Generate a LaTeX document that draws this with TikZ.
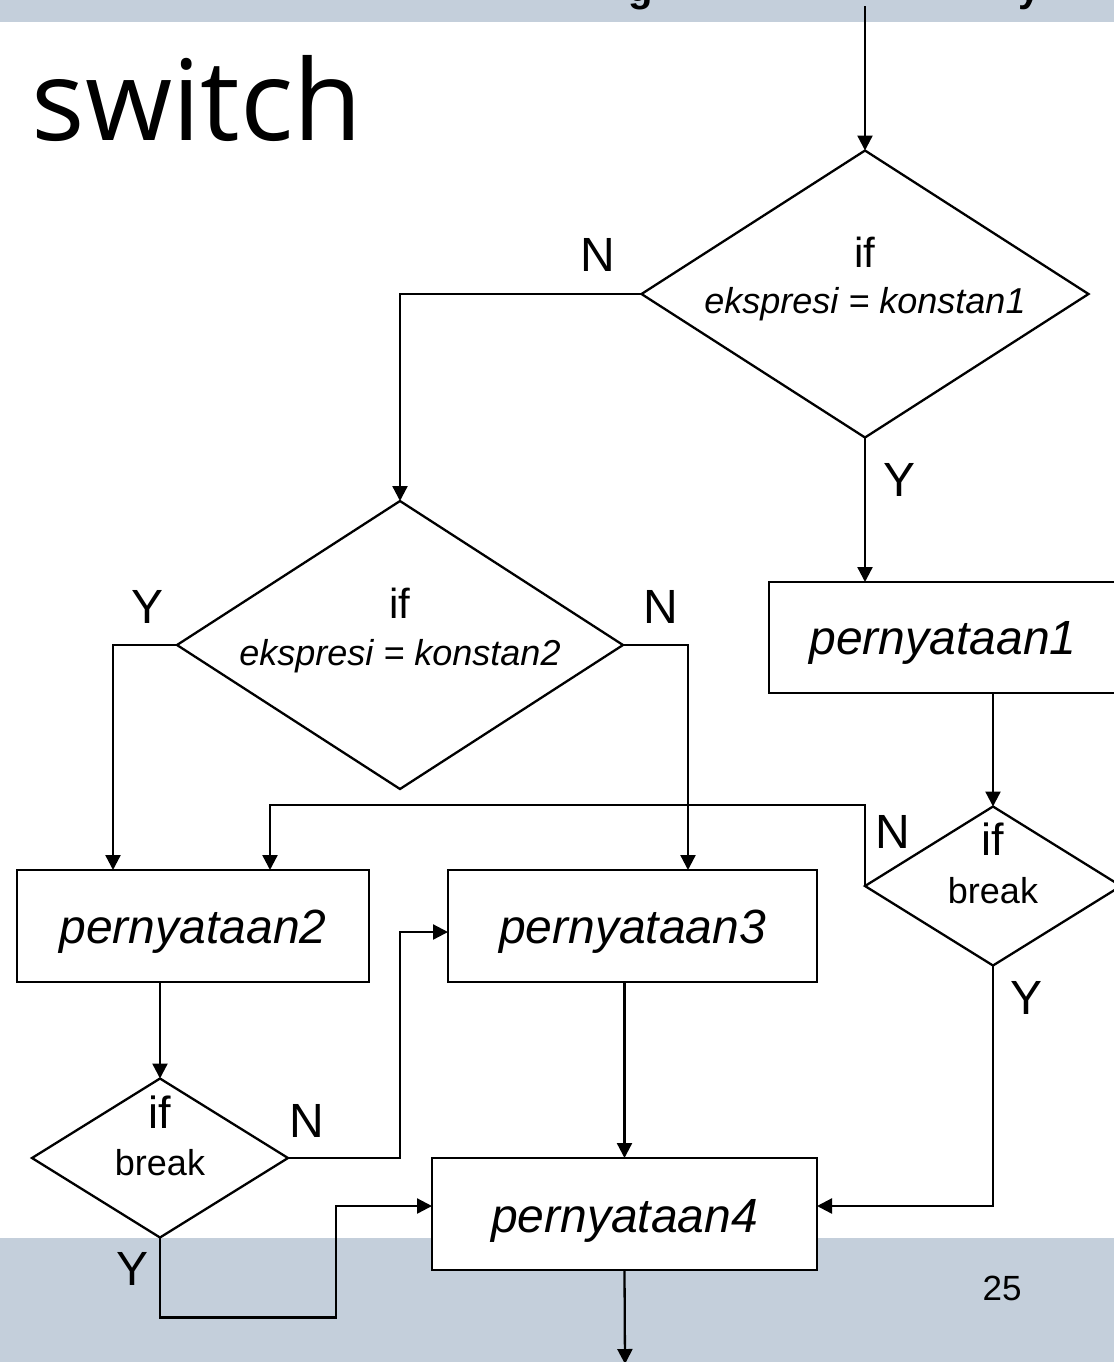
\documentclass[tikz,border=0pt]{standalone}
\usepackage{fontspec}
\setmainfont{Liberation Sans}
\newfontfamily\titlefont{Open Sans}
\usetikzlibrary{shapes.geometric,arrows.meta}
\definecolor{band}{RGB}{196,207,219}

\begin{document}
\begin{tikzpicture}[x=0.5pt, y=-0.5pt, line width=1.15pt,
    >={Triangle[length=7.5pt, width=7.5pt]},
    cond/.style={diamond, draw, fill=white, inner sep=0pt, outer sep=0pt},
    stmt/.style={rectangle, draw, fill=white, inner sep=0pt, outer sep=0pt},
    big/.style={anchor=base, font=\fontsize{24}{28}\selectfont\itshape},
    expr/.style={anchor=base, font=\fontsize{18}{22}\selectfont\itshape},
    yn/.style={anchor=base, font=\fontsize{24}{28}\selectfont}]
    \useasboundingbox (0, 0) rectangle (1114, 1362);
    % bands
    \fill [band]     (0, 0) rectangle (1114, 22);
    \fill [band]     (0, 1238) rectangle (1114, 1362);
    \begin{scope}
      \clip          (0, 0) rectangle (1114, 22);
      \node [anchor=base, font=\fontsize{20}{24}\selectfont\bfseries] (hg) at (641, 1) {g};
      \node [anchor=base, font=\fontsize{20}{24}\selectfont\bfseries] (hy) at (1030, 1) {y};
    \end{scope}
    \node [anchor=base west, font=\titlefont\fontsize{56}{60}\selectfont] (title) at (24, 140) {switch};
    \node [anchor=base, font=\fontsize{17.5}{20}\selectfont] (page) at (1002, 1300) {25};
    % D1
    \node [cond, minimum width=223.5pt, minimum height=143.5pt] (d1) at (865, 294) {};
    \node [anchor=base, font=\fontsize{21}{24}\selectfont] (d1if) at ([yshift=13.5pt]d1.center) {if};
    \node [expr]     (d1ex) at ([yshift=-9.5pt]d1.center) {ekspresi = konstan1};
    % D2
    \node [cond, minimum width=223pt, minimum height=144pt] (d2) at (400, 645) {};
    \node [anchor=base, font=\fontsize{21}{24}\selectfont] (d2if) at ([yshift=13.5pt]d2.center) {if};
    \node [expr]     (d2ex) at ([yshift=-10pt]d2.center) {ekspresi = konstan2};
    % D3
    \node [cond, minimum width=128pt, minimum height=79.5pt] (d3) at (993, 886) {};
    \node [anchor=base, font=\fontsize{22.5}{26}\selectfont] (d3if) at ([yshift=15.5pt]d3.center) {if};
    \node [expr, font=\fontsize{18}{22}\selectfont] (d3br) at ([yshift=-8.5pt]d3.center) {break};
    % D4
    \node [cond, minimum width=128pt, minimum height=79.5pt] (d4) at (160, 1158) {};
    \node [anchor=base, font=\fontsize{22.5}{26}\selectfont] (d4if) at ([yshift=15pt]d4.center) {if};
    \node [expr, font=\fontsize{18}{22}\selectfont] (d4br) at ([yshift=-8.5pt]d4.center) {break};
    % P1 -- P4
    \node [stmt, minimum width=174pt, minimum height=55.5pt] (p1) at (943, 637.5) {};
    \node [big]      (p1t) at ([yshift=-8.5pt]p1.center) {pernyataan1};
    \node [stmt, minimum width=176pt, minimum height=56pt] (p2) at (193, 926) {};
    \node [big]      (p2t) at ([yshift=-8.5pt]p2.center) {pernyataan2};
    \node [stmt, minimum width=184.5pt, minimum height=56pt] (p3) at (632.5, 926) {};
    \node [big]      (p3t) at ([yshift=-8.5pt]p3.center) {pernyataan3};
    \node [stmt, minimum width=192.5pt, minimum height=56pt] (p4) at (624.5, 1214) {};
    \node [big]      (p4t) at ([yshift=-9pt]p4.center) {pernyataan4};
    % arrows
    \coordinate (top) at (865, 6);
    \coordinate (bot) at (625, 1364);
    \draw [->]       (top) -- (d1.north);
    \draw [->]       (d1.west) -| (d2.north);
    \draw [->]       (d1.south) -- (d1.south |- p1.north);
    \draw [->]       (d2.west) -| ([xshift=-40pt]p2.north);
    \draw [->]       (d2.east) -| ([xshift=27.75pt]p3.north);
    \draw [->]       (d3.north |- p1.south) -- (d3.north);
    \draw [->]       (d3.west) |- ([xshift=38.5pt, yshift=32.5pt]p2.north) -- ([xshift=38.5pt]p2.north);
    \draw [->]       (d3.south) |- ([yshift=4pt]p4.east);
    \draw [->]       (d4.north |- p2.south) -- (d4.north);
    \draw [->]       (d4.east) -- ++(112, 0) |- ([yshift=-3pt]p3.west);
    \draw [->]       (d4.south) |- ++(176, 80) |- ([yshift=4pt]p4.west);
    \draw [->]       (p4.north |- p3.south) -- (p4.north);
    \draw [->]       (p4.south) -- (bot);
    % labels
    \node [yn]       (n1) at (598, 271) {N};
    \node [yn]       (y1) at (900, 496) {Y};
    \node [yn]       (y2) at (148, 623) {Y};
    \node [yn]       (n2) at (661, 623) {N};
    \node [yn]       (n3) at (893, 848) {N};
    \node [yn]       (y3) at (1027, 1014) {Y};
    \node [yn]       (n4) at (307, 1137) {N};
    \node [yn]       (y4) at (133, 1285) {Y};
\end{tikzpicture}
\end{document}
